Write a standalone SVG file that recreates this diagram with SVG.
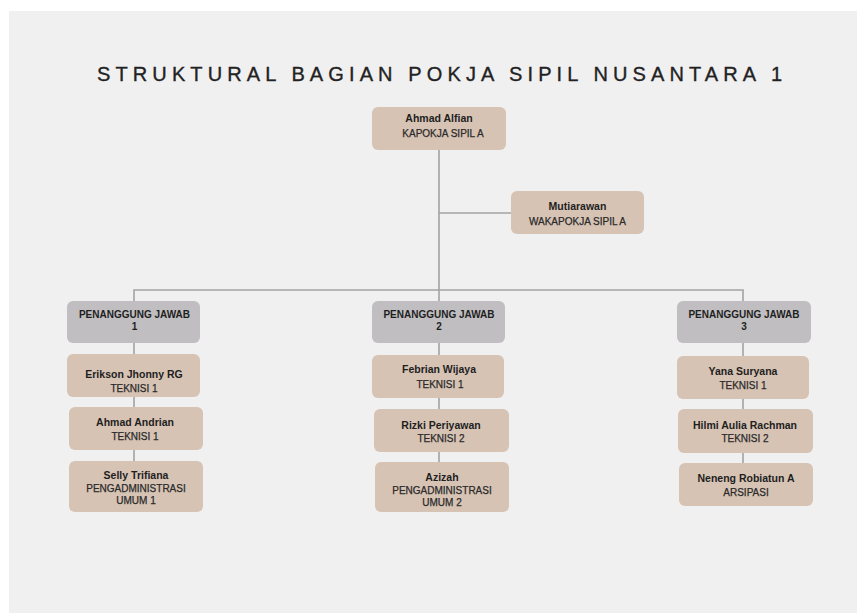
<svg xmlns="http://www.w3.org/2000/svg" width="858" height="613" viewBox="0 0 858 613">
  <style>
    .panel { fill: #f0f0f0; }
    .card { fill: #d7c3b4; }
    .head { fill: #c0bec0; }
    .link { stroke: #a3a3a3; stroke-width: 1.6; fill: none; }
    text { font-family: "Liberation Sans", Arial, sans-serif; text-anchor: middle; fill: #1e1e1e; }
    .title { font-size: 20px; fill: #222; stroke: #222; stroke-width: 0.35; }
    .name { font-size: 10.5px; font-weight: bold; }
    .role { font-size: 10px; fill: #2a2a2a; stroke: #2a2a2a; stroke-width: 0.25; }
    .pj { font-size: 10px; font-weight: bold; }
  </style>

  <rect x="0" y="0" width="858" height="613" fill="#ffffff"/>
  <rect class="panel" x="9" y="11" width="848" height="602"/>

  <text class="title" x="439.5" y="81" textLength="685" lengthAdjust="spacing">STRUKTURAL BAGIAN POKJA SIPIL NUSANTARA 1</text>

  <!-- connectors drawn first so cards sit on top -->
  <g id="connectors">
    <path class="link" d="M439 150 V301"/>
    <path class="link" d="M439 213 H511"/>
    <path class="link" d="M134 301 V290 H743 V301"/>
    <path class="link" d="M134 343 V461"/>
    <path class="link" d="M439 343 V462"/>
    <path class="link" d="M743 343 V463"/>
  </g>

  <g id="ketua">
    <rect class="card" x="372" y="107" width="134" height="43" rx="6"/>
    <text class="name" x="439" y="122">Ahmad Alfian</text>
    <text class="role" x="443" y="137">KAPOKJA SIPIL A</text>
  </g>

  <g id="wakil">
    <rect class="card" x="511" y="191" width="133" height="43" rx="6"/>
    <text class="name" x="577.5" y="210">Mutiarawan</text>
    <text class="role" x="577.5" y="225">WAKAPOKJA SIPIL A</text>
  </g>

  <!-- column 1 -->
  <g id="pj1">
    <rect class="head" x="67" y="301" width="133" height="42" rx="6"/>
    <text class="pj" x="134.5" y="318">PENANGGUNG JAWAB</text>
    <text class="pj" x="134.5" y="330">1</text>
  </g>
  <g id="erikson">
    <rect class="card" x="67" y="354" width="133" height="43" rx="6"/>
    <text class="name" x="134" y="378">Erikson Jhonny RG</text>
    <text class="role" x="134" y="392">TEKNISI 1</text>
  </g>
  <g id="ahmad-andrian">
    <rect class="card" x="69" y="407" width="134" height="43" rx="6"/>
    <text class="name" x="135" y="426">Ahmad Andrian</text>
    <text class="role" x="135" y="440">TEKNISI 1</text>
  </g>
  <g id="selly">
    <rect class="card" x="69" y="461" width="134" height="51" rx="6"/>
    <text class="name" x="136" y="479">Selly Trifiana</text>
    <text class="role" x="136" y="492">PENGADMINISTRASI</text>
    <text class="role" x="136" y="504">UMUM 1</text>
  </g>

  <!-- column 2 -->
  <g id="pj2">
    <rect class="head" x="372" y="301" width="133" height="42" rx="6"/>
    <text class="pj" x="439" y="318">PENANGGUNG JAWAB</text>
    <text class="pj" x="439" y="330">2</text>
  </g>
  <g id="febrian">
    <rect class="card" x="372" y="355" width="132" height="43" rx="6"/>
    <text class="name" x="439" y="373">Febrian Wijaya</text>
    <text class="role" x="440" y="388">TEKNISI 1</text>
  </g>
  <g id="rizki">
    <rect class="card" x="374" y="409" width="135" height="43" rx="6"/>
    <text class="name" x="441" y="429">Rizki Periyawan</text>
    <text class="role" x="441" y="442">TEKNISI 2</text>
  </g>
  <g id="azizah">
    <rect class="card" x="375" y="462" width="134" height="50" rx="6"/>
    <text class="name" x="442" y="481">Azizah</text>
    <text class="role" x="442" y="494">PENGADMINISTRASI</text>
    <text class="role" x="442" y="505.5">UMUM 2</text>
  </g>

  <!-- column 3 -->
  <g id="pj3">
    <rect class="head" x="677" y="301" width="134" height="42" rx="6"/>
    <text class="pj" x="744" y="318">PENANGGUNG JAWAB</text>
    <text class="pj" x="744" y="330">3</text>
  </g>
  <g id="yana">
    <rect class="card" x="677" y="356" width="132" height="43" rx="6"/>
    <text class="name" x="743" y="375">Yana Suryana</text>
    <text class="role" x="743" y="389">TEKNISI 1</text>
  </g>
  <g id="hilmi">
    <rect class="card" x="678" y="409" width="135" height="44" rx="6"/>
    <text class="name" x="745" y="429">Hilmi Aulia Rachman</text>
    <text class="role" x="745" y="442">TEKNISI 2</text>
  </g>
  <g id="neneng">
    <rect class="card" x="679" y="463" width="134" height="43" rx="6"/>
    <text class="name" x="746" y="482">Neneng Robiatun A</text>
    <text class="role" x="746" y="496">ARSIPASI</text>
  </g>
</svg>
